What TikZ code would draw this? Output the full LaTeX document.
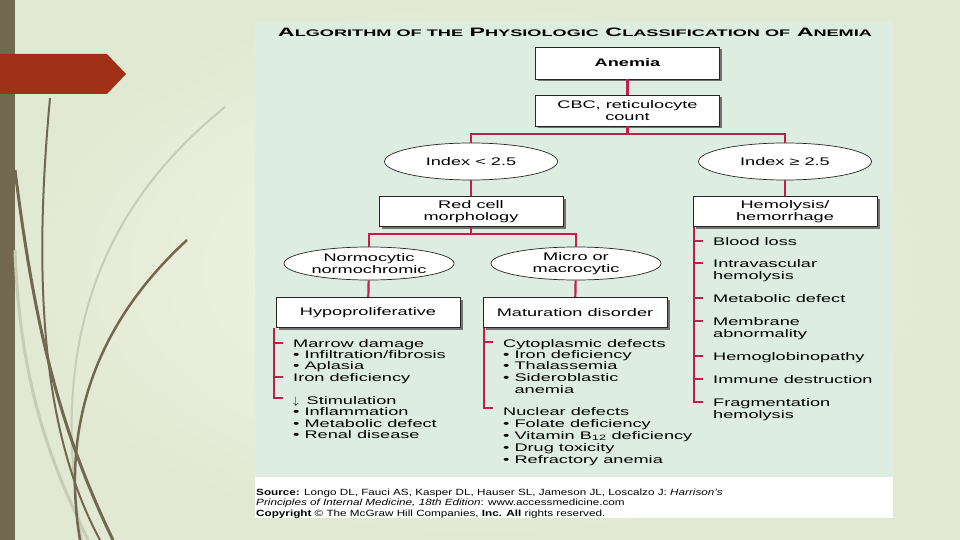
\documentclass[tikz,border=0pt]{standalone}
\usepackage{graphicx}
\usepackage{fontspec}
\setmainfont[FakeStretch=1.65]{Liberation Sans}
\newfontfamily\srcfont[FakeStretch=1.3]{Liberation Sans}
\usetikzlibrary{shapes.geometric,shadows}

\definecolor{linkred}{RGB}{192,32,72}
\definecolor{panelgreen}{RGB}{221,237,225}
\definecolor{slidebg}{RGB}{226,233,210}
\definecolor{slidelight}{RGB}{243,246,234}
\definecolor{barbrown}{RGB}{114,104,80}
\definecolor{tabred}{RGB}{160,48,22}
\definecolor{stemlight}{RGB}{198,204,182}
\newcommand{\scpart}[1]{{\fontsize{8.6}{10}\selectfont #1}}

\begin{document}
\begin{tikzpicture}[x=1pt,y=-1pt,>=latex,
        font=\fontsize{11}{11.7}\selectfont,
        chartbox/.style={draw=black!85, line width=0.7pt, fill=white,
            minimum width=184pt, minimum height=30pt, inner sep=0pt, align=center,
            drop shadow={shadow xshift=2.5pt, shadow yshift=-2.5pt, fill=black!55, opacity=1}},
        indexoval/.style={ellipse, draw=black!85, line width=0.7pt, fill=white,
            minimum width=173pt, minimum height=37pt, inner sep=0pt, align=center},
        redline/.style={linkred, line width=2.2pt},
        redtick/.style={linkred, line width=1.4pt},
        listitem/.style={anchor=base west, inner sep=0pt}]
        \useasboundingbox (0,0) rectangle (960,540);

        % draw the slide
        \fill[slidebg] (0,0) rectangle (960,540);
        \shade[inner color=slidelight, outer color=slidebg] (0,0) rectangle (960,540);
        \fill[barbrown] (0,0) rectangle (15,540);
        \fill[tabred] (0,54) -- (107,54) -- (126,74) -- (107,94) -- (0,94) -- cycle;

        % draw the stems
        \draw[stemlight, line width=2pt] (225,107) .. controls (110,200) and (45,330) .. (82,540);
        \draw[stemlight, line width=3pt] (15,250) .. controls (20,400) and (60,480) .. (88,540);
        \draw[barbrown, line width=2pt] (50,98) .. controls (36,250) and (35,420) .. (100,540);
        \draw[barbrown, line width=3pt] (15,170) .. controls (35,330) and (60,430) .. (113,540);
        \draw[barbrown, line width=2.5pt] (187,240) .. controls (100,320) and (60,420) .. (80,540);

        % draw the panel
        \fill[panelgreen] (255,22) rectangle (893,477);
        \fill[white] (255,477) rectangle (893,518);
        \node (title) at (575,32.5) {\resizebox{594pt}{8.5pt}{\bfseries A\scpart{LGORITHM OF THE} P\scpart{HYSIOLOGIC} C\scpart{LASSIFICATION OF} A\scpart{NEMIA}}};

        % draw the boxes
        \node[chartbox, minimum height=32pt] (anemia) at (627.5,63) {\bfseries Anemia};
        \node[chartbox, minimum height=31pt] (cbc) at (627.5,110.5) {CBC, reticulocyte\\count};
        \node[indexoval] (idxlo) at (471,161.5) {Index < 2.5};
        \node[indexoval] (idxhi) at (785,161.5) {Index ≥ 2.5};
        \node[chartbox] (redcell) at (471,211.5) {Red cell\\morphology};
        \node[chartbox] (hemo) at (785,211.5) {Hemolysis/\\hemorrhage};
        \node[indexoval, minimum width=170pt, minimum height=33pt] (normo) at (369,263.5) {Normocytic\\normochromic};
        \node[indexoval, minimum width=170pt, minimum height=33pt] (micro) at (576,263.5) {Micro or\\macrocytic};
        \node[chartbox] (hypo) at (368,312.5) {Hypoproliferative};
        \node[chartbox] (matur) at (575,312.5) {Maturation disorder};

        % draw the links
        \coordinate (split1) at (627.5,134);
        \coordinate (split2) at (471,234);
        \draw[redline] (anemia) -- (cbc);
        \draw[redline] (cbc) -- (split1);
        \draw[redline] (idxlo.north) |- (split1) -| (idxhi.north);
        \draw[redline] (idxlo) -- (redcell);
        \draw[redline] (idxhi) -- (hemo);
        \draw[redline] (redcell) -- (split2);
        \draw[redline] (normo.north) |- (split2) -| (micro.north);
        \draw[redline] (normo) -- (hypo);
        \draw[redline] (micro) -- (matur);

        % hypoproliferative list
        \coordinate (hypoend) at (274,398);
        \draw[redline] (hypo.south -| hypoend) -- (hypoend) -- ++(9,0);
        \foreach \y in {343,377}
                \draw[redtick] (274,\y) -- ++(9,0);
        \foreach \y/\txt in {343/Marrow damage, 354/{• Infiltration/fibrosis}, 365/• Aplasia,
            377/Iron deficiency, 400/{$\downarrow$\hspace{8pt}Stimulation}, 411/• Inflammation,
            423/• Metabolic defect, 434/• Renal disease}
                \node[listitem] (hypo\y) at (293,\y+4) {\txt};

        % maturation list
        \coordinate (maturend) at (484,408);
        \draw[redline] (matur.south -| maturend) -- (maturend) -- ++(9,0);
        \draw[redtick] (484,342) -- ++(9,0);
        \foreach \y/\txt in {343/Cytoplasmic defects, 354/• Iron deficiency, 365/• Thalassemia,
            377/• Sideroblastic, 389/\hphantom{•\ }anemia, 411/Nuclear defects,
            423/• Folate deficiency, 435/• Vitamin B\textsubscript{12} deficiency,
            447/• Drug toxicity, 459/• Refractory anemia}
                \node[listitem] (matur\y) at (503,\y+4) {\txt};

        % hemolysis list
        \coordinate (hemoend) at (694,402);
        \draw[redline] (hemo.south -| hemoend) -- (hemoend) -- ++(9,0);
        \foreach \y in {241,263,298,321,356,379}
                \draw[redtick] (694,\y) -- ++(9,0);
        \foreach \y/\txt in {241/Blood loss, 263/Intravascular, 275/hemolysis,
            298/Metabolic defect, 321/Membrane, 333/abnormality, 356/Hemoglobinopathy,
            379/Immune destruction, 402/Fragmentation, 414/hemolysis}
                \node[listitem] (hemo\y) at (713,\y+4) {\txt};

        % source lines
        \node[listitem, font=\srcfont\fontsize{9}{10}\selectfont] (src1) at (256,495)
            {\textbf{Source:} Longo DL, Fauci AS, Kasper DL, Hauser SL, Jameson JL, Loscalzo J: \textit{Harrison’s}};
        \node[listitem, font=\srcfont\fontsize{9}{10}\selectfont] (src2) at (256,505)
            {\textit{Principles of Internal Medicine, 18th Edition}: www.accessmedicine.com};
        \node[listitem, font=\srcfont\fontsize{9}{10}\selectfont] (src3) at (256,516)
            {\textbf{Copyright} © The McGraw Hill Companies, \textbf{Inc. All} rights reserved.};
\end{tikzpicture}
\end{document}
